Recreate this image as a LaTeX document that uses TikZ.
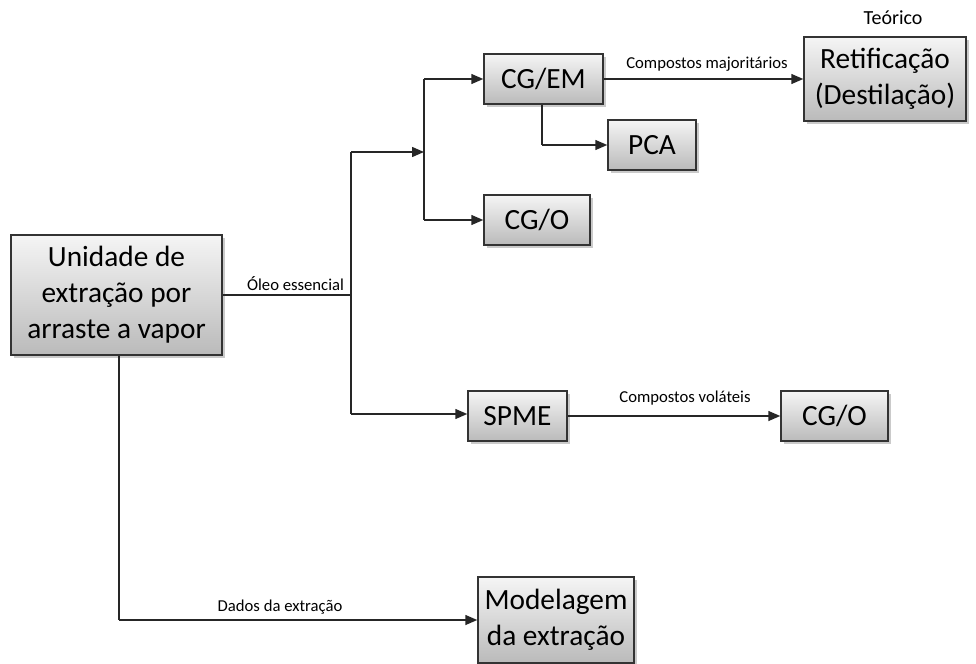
\documentclass[tikz,border=0pt]{standalone}
\usepackage{fontspec}
\setmainfont{Carlito}
\usetikzlibrary{arrows.meta,shadows}
\begin{document}
\begin{tikzpicture}[x=0.75pt,y=-0.75pt,
  box/.style={draw=black!80, line width=1.1pt, rectangle, align=center,
    top color=black!4, bottom color=black!27, inner sep=0pt,
    font=\fontsize{22}{27}\selectfont,
    drop shadow={shadow xshift=2pt, shadow yshift=-2pt, opacity=0.35, fill=black!60}},
  lbl/.style={font=\fontsize{12.5}{14}\selectfont, inner sep=0pt},
  conn/.style={line width=1.1pt, draw=black!85},
  arr/.style={conn, -{Triangle[length=9pt,width=7.5pt]}}]
\useasboundingbox (0,0) rectangle (976,664);

\node[box, minimum width=158.25pt, minimum height=90pt] (main) at (116.5,295) {Unidade de\\extração por\\arraste a vapor};
\node[box, minimum width=89.25pt, minimum height=37.5pt] (cgem) at (543.5,79) {CG/EM};
\node[box, minimum width=66pt, minimum height=37.5pt] (pca) at (652,145) {PCA};
\node[box, minimum width=79.5pt, minimum height=37.5pt] (cgo1) at (537,220) {CG/O};
\node[box, minimum width=121.5pt, minimum height=63pt] (ret) at (885,79) {Retificação\\(Destilação)};
\node[box, minimum width=74.25pt, minimum height=37.5pt] (spme) at (517.5,416) {SPME};
\node[box, minimum width=80.25pt, minimum height=37.5pt] (cgo2) at (834.5,416) {CG/O};
\node[box, minimum width=117pt, minimum height=64.5pt] (model) at (556,620) {Modelagem\\da extração};

\node[font=\fontsize{15}{17}\selectfont, inner sep=0pt] (teo) at (893,18) {Teórico};
\node[lbl] (loleo) at (295.5,284) {Óleo essencial};
\node[lbl] (lmaj) at (707,64) {Compostos majoritários};
\node[lbl] (lvol) at (685,398) {Compostos voláteis};
\node[lbl] (ldad) at (280,607) {Dados da extração};

\coordinate (jm) at (351,295);
\coordinate (jtop) at (351,152);
\coordinate (jbot) at (351,414);
\coordinate (j2) at (424,152);
\coordinate (j2t) at (424,79);
\coordinate (j2b) at (424,220);
\coordinate (jpca) at (542,145);
\coordinate (jmod) at (119,620);

\draw[conn] (main.east |- jm) -- (jm);
\draw[conn] (jtop) -- (jbot);
\draw[arr] (jtop) -- (j2);
\draw[conn] (j2t) -- (j2b);
\draw[arr] (j2t) -- (cgem.west);
\draw[arr] (j2b) -- (cgo1.west);
\draw[arr] (jbot) -- (spme.west |- jbot);
\draw[conn] (cgem.south -| jpca) -- (jpca);
\draw[arr] (jpca) -- (pca.west);
\draw[arr] (cgem.east) -- (ret.west);
\draw[arr] (spme.east) -- (cgo2.west);
\draw[conn] (main.south -| jmod) -- (jmod);
\draw[arr] (jmod) -- (model.west);
\end{tikzpicture}
\end{document}
